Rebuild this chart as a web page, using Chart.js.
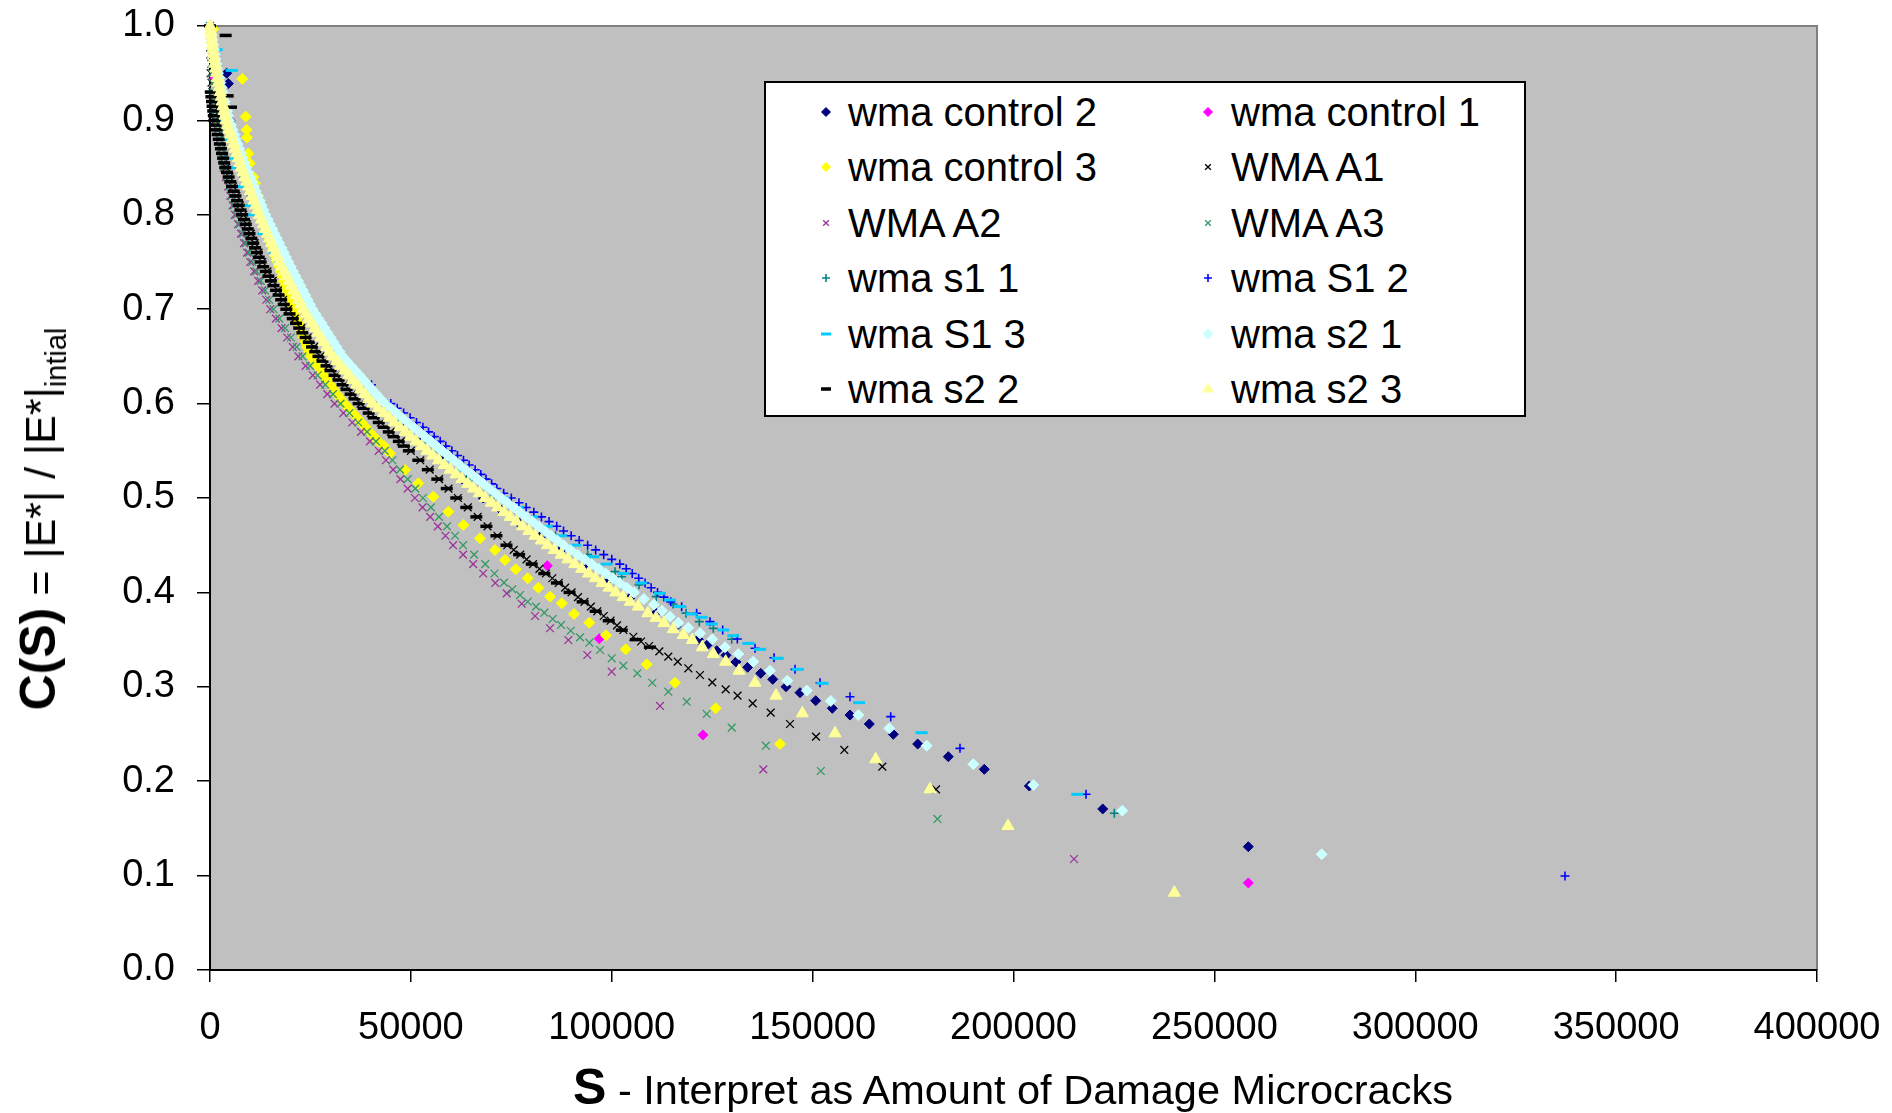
<!DOCTYPE html>
<html><head><meta charset="utf-8">
<script src="https://cdn.jsdelivr.net/npm/chart.js@4.4.1/dist/chart.umd.min.js"></script>
<style>
html,body{margin:0;padding:0;background:#fff;}
#wrap{position:relative;width:1892px;height:1113px;overflow:hidden;font-family:"Liberation Sans",Arial,sans-serif;color:#000;}
#c{position:absolute;left:0;top:0;}
#ytitle{position:absolute;left:47px;top:519px;transform:translate(-50%,-50%) rotate(-90deg);white-space:nowrap;font-size:43px;line-height:54px;}
#ytitle b{font-size:50px;}
#ytitle sub{font-size:29px;vertical-align:-11px;}
#xtitle{position:absolute;left:1013px;top:1088px;transform:translate(-50%,-50%);white-space:nowrap;font-size:41.5px;line-height:52px;}
#xtitle b{font-size:50px;}
#legend{position:absolute;left:764px;top:81px;width:758px;height:332px;border:2px solid #000;background:#fff;}
.lm{position:absolute;width:24px;height:24px;}
.lt{position:absolute;font-size:40px;line-height:46px;white-space:nowrap;}
</style></head>
<body>
<div id="wrap">
<canvas id="c" width="1892" height="1113"></canvas>
<div id="ytitle"><b>C(S)</b> = |E*| / |E*|<sub>intial</sub></div>
<div id="xtitle"><b>S</b> - Interpret as Amount of Damage Microcracks</div>
<div id="legend"></div>
</div>
<script>
// ---------- DATA: [S, C(S)] pairs ----------
const seriesNames = ['wma control 2','wma control 1','wma control 3','WMA A1','WMA A2','WMA A3','wma s1 1','wma S1 2','wma S1 3','wma s2 1','wma s2 2','wma s2 3'];
const xTickValues = [0,50000,100000,150000,200000,250000,300000,350000,400000];
const yTickValues = [0,0.1,0.2,0.3,0.4,0.5,0.6,0.7,0.8,0.9,1.0];

const control2 = [[0,1.0],[4150,0.95],[4560,0.939],[5000,0.90],[6500,0.88],[8000,0.86],[9700,0.84],[11300,0.82],[13000,0.80],[15200,0.78],[17400,0.76],[19700,0.74],[22100,0.72],[24500,0.70],[27500,0.68],[30500,0.66],[34100,0.64],[38300,0.62],[42500,0.60],[47500,0.58],[52500,0.56],[57600,0.54],[62800,0.52],[68000,0.50],[72500,0.487],[77000,0.473],[82200,0.459],[87500,0.4456],[93000,0.428],[98500,0.41],[104500,0.394],[111000,0.378],[116000,0.364],[121550,0.3503],[123790,0.3443],[126130,0.3382],[128440,0.3334],[130930,0.3263],[133840,0.3207],[137080,0.3143],[140070,0.3079],[143380,0.3001],[146860,0.2938],[150770,0.2853],[154900,0.2772],[159300,0.2701],[164110,0.2606],[170080,0.2497],[176150,0.2394],[183770,0.226],[192730,0.2126],[203940,0.1949],[222210,0.1706],[258450,0.1306]];

const control1 = [[0,1.0],[1200,0.945],[34850,0.641],[83960,0.4283],[96900,0.351],[122710,0.249],[258450,0.0922]];

const control3 = [[0,1.0],[830,0.9965],[8040,0.944],[8880,0.904],[9130,0.89],[9200,0.882],[9540,0.865],[9960,0.8545],[10780,0.84],[11200,0.8334],[11900,0.82],[12250,0.815],[12600,0.81],[12950,0.805],[13300,0.80],[13650,0.795],[14000,0.79],[14350,0.785],[14700,0.78],[15050,0.775],[15400,0.77],[15750,0.765],[16100,0.76],[16450,0.755],[16800,0.75],[17200,0.745],[17600,0.74],[18000,0.735],[18400,0.73],[18800,0.725],[19200,0.72],[19600,0.715],[20000,0.71],[20350,0.705],[20700,0.70],[21120,0.695],[21550,0.69],[21980,0.685],[22400,0.68],[22820,0.675],[23250,0.67],[23680,0.665],[24100,0.66],[24650,0.655],[25200,0.65],[26000,0.645],[26800,0.64],[27600,0.635],[28400,0.63],[29200,0.625],[30000,0.62],[30800,0.615],[31600,0.61],[32550,0.605],[33500,0.60],[34550,0.595],[35600,0.59],[36650,0.585],[37700,0.58],[38750,0.575],[39800,0.57],[40850,0.565],[41900,0.56],[43350,0.555],[44800,0.5473],[48540,0.5297],[51860,0.5156],[55590,0.5014],[59320,0.4855],[63050,0.4714],[67200,0.4573],[70930,0.4449],[73430,0.4343],[76100,0.4245],[79080,0.4149],[81730,0.405],[84640,0.3955],[87540,0.3884],[90610,0.3771],[94420,0.3679],[98570,0.3545],[103470,0.3397],[108700,0.3238],[115740,0.3043],[125870,0.2772],[141880,0.2394]];

const wmaA1 = [[0,1.0],[80,0.97],[150,0.95],[380,0.94],[610,0.93],[840,0.92],[1070,0.91],[1300,0.90],[1840,0.89],[2380,0.88],[2920,0.87],[3460,0.86],[4000,0.85],[4860,0.84],[5720,0.83],[6580,0.82],[7440,0.81],[8300,0.80],[9240,0.79],[10180,0.78],[11120,0.77],[12060,0.76],[13000,0.75],[14300,0.74],[15600,0.73],[16900,0.72],[18200,0.71],[19500,0.70],[21100,0.69],[22700,0.68],[24300,0.67],[25900,0.66],[27500,0.65],[29500,0.64],[31500,0.63],[33500,0.62],[35500,0.61],[37500,0.60],[40000,0.59],[42500,0.58],[45000,0.57],[47500,0.56],[50000,0.55],[52340,0.54],[54680,0.53],[57020,0.52],[59360,0.51],[61700,0.50],[64160,0.49],[66620,0.48],[69080,0.47],[71540,0.46],[74000,0.45],[75600,0.445],[77200,0.44],[78800,0.435],[80400,0.43],[82000,0.425],[83600,0.42],[85200,0.415],[86800,0.41],[88400,0.405],[90000,0.40],[91600,0.395],[93200,0.39],[94800,0.385],[96400,0.38],[98000,0.375],[99700,0.37],[101300,0.365],[102890,0.3602],[105380,0.353],[107300,0.348],[109280,0.3432],[111840,0.3375],[114080,0.332],[116410,0.3266],[119060,0.3196],[121960,0.3125],[125030,0.3047],[128360,0.2973],[131310,0.2906],[135080,0.2825],[139560,0.2726],[144370,0.2606],[150840,0.2472],[157890,0.2331],[167350,0.2154],[180710,0.1914]];

const wmaA2 = [[0,1.0],[80,0.99],[160,0.98],[240,0.97],[320,0.96],[400,0.95],[640,0.94],[880,0.93],[1120,0.92],[1360,0.91],[1600,0.90],[1960,0.89],[2320,0.88],[2680,0.87],[3040,0.86],[3400,0.85],[3960,0.84],[4520,0.83],[5080,0.82],[5640,0.81],[6200,0.80],[6960,0.79],[7720,0.78],[8480,0.77],[9240,0.76],[10000,0.75],[11000,0.74],[12000,0.73],[13000,0.72],[14000,0.71],[15000,0.70],[16400,0.69],[17800,0.68],[19200,0.67],[20600,0.66],[22000,0.65],[23800,0.64],[25600,0.63],[27400,0.62],[29200,0.61],[31000,0.60],[33200,0.59],[35400,0.58],[37600,0.57],[39800,0.56],[42000,0.55],[43800,0.54],[45600,0.53],[47400,0.52],[49200,0.51],[51000,0.50],[52900,0.49],[54800,0.48],[56700,0.47],[58600,0.46],[60500,0.45],[63000,0.44],[65500,0.43],[68000,0.42],[71000,0.41],[73850,0.399],[77580,0.388],[80900,0.375],[84640,0.362],[89190,0.3496],[93920,0.3337],[99990,0.316],[112010,0.2797],[137720,0.2126],[215060,0.1176]];

const wmaA3 = [[0,1.0],[160,0.98],[320,0.96],[400,0.95],[660,0.94],[920,0.93],[1180,0.92],[1440,0.91],[1700,0.90],[2080,0.89],[2460,0.88],[2840,0.87],[3220,0.86],[3600,0.85],[4200,0.84],[4800,0.83],[5400,0.82],[6000,0.81],[6600,0.80],[7380,0.79],[8160,0.78],[8940,0.77],[9720,0.76],[10500,0.75],[11560,0.74],[12620,0.73],[13680,0.72],[14740,0.71],[15800,0.70],[17240,0.69],[18680,0.68],[20120,0.67],[21560,0.66],[23000,0.65],[24900,0.64],[26800,0.63],[28700,0.62],[30600,0.61],[32500,0.60],[34700,0.59],[36900,0.58],[39100,0.57],[41300,0.56],[43500,0.55],[45400,0.54],[47300,0.53],[49200,0.52],[51100,0.51],[53000,0.50],[55000,0.49],[57000,0.48],[59000,0.47],[61000,0.46],[63000,0.45],[65750,0.44],[68500,0.43],[70800,0.42],[73180,0.4103],[75250,0.4033],[77170,0.3972],[79080,0.3901],[81140,0.3849],[83210,0.3785],[85300,0.3718],[87370,0.3655],[89790,0.3594],[92100,0.3524],[94420,0.3467],[97080,0.339],[99990,0.3302],[102890,0.3224],[106360,0.3143],[110100,0.3043],[114080,0.2948],[118650,0.2842],[123630,0.2712],[129860,0.2567],[138350,0.2376],[152020,0.2108],[181080,0.16]];

const s1_1 = [[0,1.0],[1200,0.96],[2600,0.92],[3500,0.90],[5100,0.88],[6700,0.86],[8400,0.84],[10200,0.82],[12000,0.80],[14200,0.78],[16400,0.76],[18700,0.74],[21100,0.72],[23500,0.70],[26700,0.68],[29900,0.66],[33600,0.64],[37800,0.62],[42000,0.60],[47000,0.58],[52000,0.56],[57600,0.54],[63800,0.52],[70000,0.50],[78000,0.48],[86000,0.46],[94000,0.44],[100810,0.422],[102470,0.4166],[106800,0.408],[111090,0.3955],[115250,0.3877],[118500,0.378],[121790,0.369],[125280,0.3619],[129860,0.3503],[225090,0.166]];

const s1_2 = [[0,1.0],[1000,0.97],[1800,0.95],[3400,0.92],[4600,0.90],[7100,0.87],[8800,0.85],[11700,0.82],[13600,0.80],[16800,0.77],[19000,0.75],[22600,0.72],[25000,0.70],[29800,0.67],[33000,0.65],[40200,0.62],[45000,0.60],[46600,0.595],[48200,0.59],[49800,0.585],[51400,0.58],[53000,0.575],[54400,0.57],[55800,0.565],[57300,0.56],[58700,0.555],[60200,0.55],[61600,0.545],[63100,0.54],[64500,0.535],[66000,0.53],[67400,0.525],[68700,0.52],[70100,0.515],[71400,0.51],[73100,0.505],[75000,0.50],[76900,0.495],[78700,0.49],[80600,0.485],[82500,0.48],[84400,0.475],[86300,0.47],[88000,0.465],[89900,0.46],[91900,0.455],[94000,0.45],[96000,0.445],[98000,0.44],[100000,0.435],[102000,0.43],[103600,0.425],[105100,0.42],[106700,0.415],[108300,0.41],[109800,0.405],[111400,0.40],[113000,0.395],[114700,0.39],[117400,0.3849],[121130,0.3779],[124450,0.369],[127610,0.3602],[131260,0.3506],[135660,0.3408],[140390,0.3308],[145620,0.3185],[151840,0.3043],[159300,0.2895],[169440,0.2684],[186680,0.2348],[218050,0.1861],[337270,0.0996]];

const s1_3 = [[0,1.0],[300,0.93],[1000,0.91],[1500,0.90],[1660,0.975],[2900,0.88],[4300,0.86],[5000,0.85],[5400,0.953],[7200,0.83],[9400,0.81],[10500,0.80],[13300,0.78],[16100,0.76],[17500,0.75],[18840,0.74],[20180,0.73],[21520,0.72],[22860,0.71],[24200,0.70],[25760,0.69],[27320,0.68],[28880,0.67],[30440,0.66],[32000,0.65],[34200,0.64],[36400,0.63],[38600,0.62],[40800,0.61],[43000,0.60],[45700,0.59],[48400,0.58],[51100,0.57],[53800,0.56],[56500,0.55],[59800,0.54],[63100,0.53],[66400,0.52],[69700,0.51],[73000,0.50],[76600,0.49],[80200,0.48],[83800,0.47],[87400,0.46],[91000,0.45],[95400,0.4378],[98700,0.43],[103000,0.42],[107300,0.41],[112000,0.399],[114500,0.392],[117000,0.385],[119880,0.3771],[122370,0.3736],[124860,0.3665],[127770,0.3602],[130260,0.3541],[133990,0.346],[136910,0.3397],[141300,0.3302],[146290,0.3185],[152470,0.3037],[161550,0.2832],[177140,0.2514],[215880,0.1861]];

const s2_1 = [[0,1.0],[200,0.995],[400,0.99],[600,0.985],[800,0.98],[1000,0.975],[1200,0.97],[1400,0.965],[1600,0.96],[1800,0.955],[2000,0.95],[2280,0.945],[2560,0.94],[2840,0.935],[3120,0.93],[3400,0.925],[3680,0.92],[3960,0.915],[4240,0.91],[4520,0.905],[4800,0.90],[5220,0.895],[5640,0.89],[6060,0.885],[6480,0.88],[6900,0.875],[7320,0.87],[7740,0.865],[8160,0.86],[8580,0.855],[9000,0.85],[9480,0.845],[9960,0.84],[10440,0.835],[10920,0.83],[11400,0.825],[11880,0.82],[12360,0.815],[12840,0.81],[13320,0.805],[13800,0.80],[14370,0.795],[14940,0.79],[15510,0.785],[16080,0.78],[16650,0.775],[17220,0.77],[17790,0.765],[18360,0.76],[18930,0.755],[19500,0.75],[20100,0.745],[20700,0.74],[21300,0.735],[21900,0.73],[22500,0.725],[23100,0.72],[23700,0.715],[24300,0.71],[24900,0.705],[25500,0.70],[26250,0.695],[27000,0.69],[27750,0.685],[28500,0.68],[29250,0.675],[30000,0.67],[30750,0.665],[31500,0.66],[32250,0.655],[33000,0.65],[34050,0.645],[35100,0.64],[36150,0.635],[37200,0.63],[38250,0.625],[39300,0.62],[40350,0.615],[41400,0.61],[42450,0.605],[43500,0.60],[44930,0.595],[46360,0.59],[47790,0.585],[49220,0.58],[50650,0.575],[52080,0.57],[53510,0.565],[54940,0.56],[56370,0.555],[57800,0.55],[59270,0.545],[60740,0.54],[62210,0.535],[63680,0.53],[65150,0.525],[66620,0.52],[68090,0.515],[69560,0.51],[71030,0.505],[72500,0.50],[74050,0.495],[75600,0.49],[77150,0.485],[78700,0.48],[80250,0.475],[81800,0.47],[83350,0.465],[84900,0.46],[86450,0.455],[88000,0.45],[89750,0.445],[91500,0.44],[93250,0.435],[95000,0.43],[96750,0.425],[98500,0.42],[100250,0.415],[102000,0.41],[103750,0.405],[105500,0.40],[108000,0.393],[110500,0.387],[112500,0.3805],[114500,0.3743],[116570,0.3679],[119060,0.3626],[121960,0.3567],[125030,0.3503],[128190,0.3418],[131510,0.3347],[135240,0.3266],[139390,0.317],[143700,0.3065],[148540,0.296],[154530,0.285],[161380,0.2701],[169100,0.256],[178400,0.2376],[190000,0.218],[204930,0.196],[227080,0.1688],[276710,0.1226]];

const s2_2 = [[0,1.0],[3900,0.99],[4400,0.926],[5230,0.914],[200,0.93],[350,0.925],[500,0.92],[650,0.915],[800,0.91],[950,0.905],[1100,0.90],[1370,0.895],[1640,0.89],[1910,0.885],[2180,0.88],[2450,0.875],[2720,0.87],[2990,0.865],[3260,0.86],[3530,0.855],[3800,0.85],[4220,0.845],[4640,0.84],[5060,0.835],[5480,0.83],[5900,0.825],[6320,0.82],[6740,0.815],[7160,0.81],[7580,0.805],[8000,0.80],[8460,0.795],[8920,0.79],[9380,0.785],[9840,0.78],[10300,0.775],[10760,0.77],[11220,0.765],[11680,0.76],[12140,0.755],[12600,0.75],[13240,0.745],[13880,0.74],[14520,0.735],[15160,0.73],[15800,0.725],[16440,0.72],[17080,0.715],[17720,0.71],[18360,0.705],[19000,0.70],[19800,0.695],[20600,0.69],[21400,0.685],[22200,0.68],[23000,0.675],[23800,0.67],[24600,0.665],[25400,0.66],[26200,0.655],[27000,0.65],[28000,0.645],[29000,0.64],[30000,0.635],[31000,0.63],[32000,0.625],[33000,0.62],[34000,0.615],[35000,0.61],[36000,0.605],[37000,0.60],[38250,0.595],[39500,0.59],[40750,0.585],[42000,0.58],[43250,0.575],[44500,0.57],[45750,0.565],[47000,0.56],[48250,0.555],[49500,0.55],[51860,0.54],[54220,0.53],[56580,0.52],[58940,0.51],[61300,0.50],[63800,0.49],[66300,0.48],[68800,0.47],[71300,0.46],[73800,0.45],[76940,0.44],[80080,0.43],[83220,0.42],[86360,0.41],[89500,0.40],[92750,0.39],[96000,0.38],[99250,0.37],[102500,0.36],[106000,0.35],[109500,0.342]];

const s2_3 = [[0,1.0],[135,0.995],[270,0.99],[400,0.985],[530,0.98],[665,0.975],[800,0.97],[1000,0.965],[1200,0.96],[1400,0.955],[1600,0.95],[1840,0.945],[2080,0.94],[2320,0.935],[2560,0.93],[2800,0.925],[3040,0.92],[3280,0.915],[3520,0.91],[3760,0.905],[4000,0.90],[4380,0.895],[4760,0.89],[5140,0.885],[5520,0.88],[5900,0.875],[6280,0.87],[6660,0.865],[7040,0.86],[7420,0.855],[7800,0.85],[8250,0.845],[8700,0.84],[9150,0.835],[9600,0.83],[10050,0.825],[10500,0.82],[10950,0.815],[11400,0.81],[11850,0.805],[12300,0.80],[12800,0.795],[13300,0.79],[13800,0.785],[14300,0.78],[14800,0.775],[15300,0.77],[15800,0.765],[16300,0.76],[16800,0.755],[17300,0.75],[17890,0.745],[18480,0.74],[19070,0.735],[19660,0.73],[20250,0.725],[20840,0.72],[21430,0.715],[22020,0.71],[22610,0.705],[23200,0.70],[23930,0.695],[24660,0.69],[25390,0.685],[26120,0.68],[26850,0.675],[27580,0.67],[28310,0.665],[29040,0.66],[29770,0.655],[30500,0.65],[31500,0.645],[32500,0.64],[33500,0.635],[34500,0.63],[35500,0.625],[36500,0.62],[37500,0.615],[38500,0.61],[39500,0.605],[40500,0.60],[41850,0.595],[43200,0.59],[44550,0.585],[45900,0.58],[47250,0.575],[48600,0.57],[49950,0.565],[51300,0.56],[52650,0.555],[54000,0.55],[55450,0.545],[56900,0.54],[58350,0.535],[59800,0.53],[61250,0.525],[62700,0.52],[64150,0.515],[65600,0.51],[67050,0.505],[68500,0.50],[70050,0.495],[71600,0.49],[73150,0.485],[74700,0.48],[76250,0.475],[77800,0.47],[79350,0.465],[80900,0.46],[82450,0.455],[84000,0.45],[85700,0.445],[87400,0.44],[89100,0.435],[90800,0.43],[92500,0.425],[94200,0.42],[95900,0.415],[97600,0.41],[99300,0.405],[101000,0.40],[102800,0.395],[104600,0.39],[106600,0.385],[109000,0.378],[111000,0.373],[113000,0.3675],[115300,0.361],[117810,0.3549],[120050,0.3496],[122540,0.3418],[125280,0.3347],[128360,0.3266],[131680,0.317],[135660,0.3043],[140890,0.2906],[147440,0.2719],[155570,0.2507],[165700,0.2232],[179220,0.1914],[198630,0.1525],[240030,0.0819]];

const seriesData = [control2, control1, control3, wmaA1, wmaA2, wmaA3, s1_1, s1_2, s1_3, s2_1, s2_2, s2_3];

// ---------- STYLES ----------
const markerStyle = [
  {ps:'rectRot',  r:5,   fill:'#000080', line:'#000080', bw:1},
  {ps:'rectRot',  r:5,   fill:'#FF00FF', line:'#FF00FF', bw:1},
  {ps:'rectRot',  r:5.5, fill:'#FFFF00', line:'#FFFF00', bw:1},
  {ps:'crossRot', r:5.5, fill:'#000000', line:'#000000', bw:1.3},
  {ps:'crossRot', r:5.5, fill:'#993399', line:'#993399', bw:1.3},
  {ps:'crossRot', r:5.5, fill:'#339966', line:'#339966', bw:1.3},
  {ps:'cross',    r:4.5, fill:'#008080', line:'#008080', bw:1.6},
  {ps:'cross',    r:4.5, fill:'#0000FF', line:'#0000FF', bw:1.6},
  {ps:'line',     r:6,   fill:'#00CCFF', line:'#00CCFF', bw:3},
  {ps:'rectRot',  r:5.5, fill:'#CCFFFF', line:'#CCFFFF', bw:1},
  {ps:'line',     r:6,   fill:'#000000', line:'#000000', bw:3.5},
  {ps:'triangle', r:7,   fill:'#FFFF99', line:'#FFFF99', bw:1}
];
const legendRadius = [4.5, 4.5, 4.5, 4, 4, 4, 4, 4, 5, 5, 5, 6];

const FONT = '"Liberation Sans", Arial, sans-serif';

const datasets = seriesNames.map((name, i) => ({
  label: name,
  data: seriesData[i].map(p => ({x: p[0], y: p[1]})),
  pointStyle: markerStyle[i].ps,
  pointRadius: markerStyle[i].r,
  backgroundColor: markerStyle[i].fill,
  borderColor: markerStyle[i].line,
  borderWidth: markerStyle[i].bw,
  showLine: false,
  clip: false,
  order: seriesNames.length - 1 - i
}));

const plotFrame = {
  id: 'plotFrame',
  beforeDraw(chart) {
    const {ctx, chartArea: a} = chart;
    ctx.save();
    ctx.fillStyle = '#C0C0C0';
    ctx.fillRect(a.left, a.top, a.right - a.left, a.bottom - a.top);
    ctx.strokeStyle = '#808080';
    ctx.lineWidth = 2;
    ctx.beginPath();
    ctx.moveTo(a.left, a.top); ctx.lineTo(a.right, a.top); ctx.lineTo(a.right, a.bottom);
    ctx.stroke();
    ctx.restore();
  }
};

new Chart(document.getElementById('c'), {
  type: 'scatter',
  data: {datasets},
  plugins: [plotFrame],
  options: {
    responsive: false,
    devicePixelRatio: 1,
    animation: false,
    events: [],
    layout: {autoPadding: false, padding: {top: 26, right: 75, left: 0, bottom: 0}},
    plugins: {legend: {display: false}, tooltip: {enabled: false}},
    scales: {
      x: {
        type: 'linear', min: 0, max: 400000,
        afterBuildTicks: s => { s.ticks = xTickValues.map(v => ({value: v})); },
        afterFit: s => { s.height = 143; s.paddingLeft = 0; s.paddingRight = 0; },
        ticks: {callback: v => String(v), font: {family: FONT, size: 38}, color: '#000', padding: 24, maxRotation: 0, autoSkip: false},
        grid: {drawOnChartArea: false, drawTicks: true, tickLength: 12, color: '#000', lineWidth: 1.5},
        border: {display: true, color: '#000', width: 2}
      },
      y: {
        type: 'linear', min: 0, max: 1,
        afterBuildTicks: s => { s.ticks = yTickValues.map(v => ({value: v})); },
        afterFit: s => { s.width = 210; s.paddingTop = 0; s.paddingBottom = 0; },
        ticks: {callback: v => Number(v).toFixed(1), font: {family: FONT, size: 38}, color: '#000', padding: 22, autoSkip: false},
        grid: {drawOnChartArea: false, drawTicks: true, tickLength: 13, color: '#000', lineWidth: 1.5},
        border: {display: true, color: '#000', width: 2}
      }
    }
  }
});

// ---------- LEGEND (HTML text, library-drawn markers) ----------
const legend = document.getElementById('legend');
const rowY = [29, 84, 140, 195, 251, 306];
const colMarkerX = [60, 442];
const colTextX = [82, 465];
seriesNames.forEach((name, i) => {
  const row = Math.floor(i / 2), col = i % 2;
  const cv = document.createElement('canvas');
  cv.width = 24; cv.height = 24; cv.className = 'lm';
  cv.style.left = (colMarkerX[col] - 12) + 'px';
  cv.style.top = (rowY[row] - 12) + 'px';
  legend.appendChild(cv);
  const cx = cv.getContext('2d');
  const m = markerStyle[i];
  cx.fillStyle = m.fill; cx.strokeStyle = m.line; cx.lineWidth = m.bw;
  const opts = {pointStyle: m.ps, radius: legendRadius[i], rotation: 0, borderWidth: m.bw};
  if (Chart.helpers && Chart.helpers.drawPoint) {
    Chart.helpers.drawPoint(cx, opts, 12, 12);
  }
  const sp = document.createElement('span');
  sp.className = 'lt';
  sp.textContent = name;
  sp.style.left = colTextX[col] + 'px';
  sp.style.top = (rowY[row] - 23) + 'px';
  legend.appendChild(sp);
});
</script>
</body></html>
